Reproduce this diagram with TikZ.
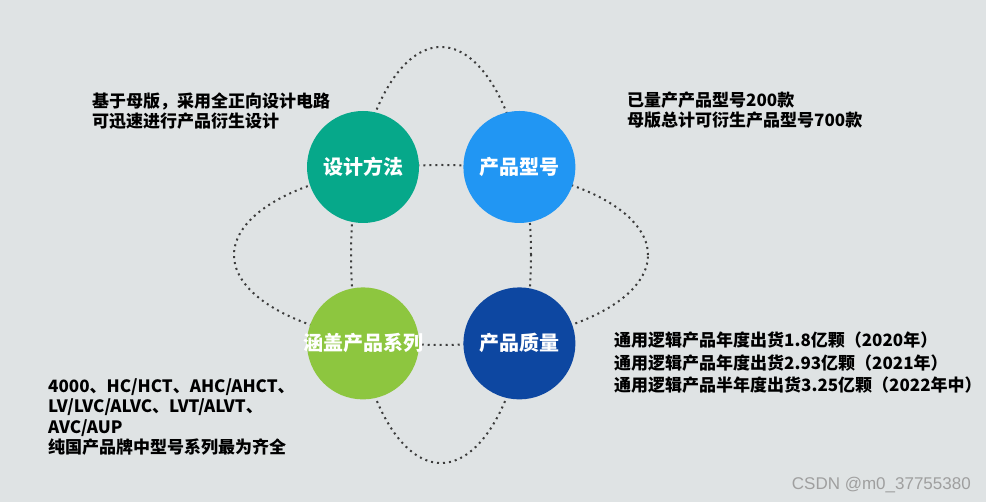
\documentclass[tikz,border=0pt]{standalone}
\usepackage{fontspec}
\setmainfont{Noto Sans CJK SC}
\newfontfamily\markfont{Liberation Sans}
\usepackage{tikz}
\usetikzlibrary{positioning}
\definecolor{bgGray}{RGB}{223,227,228}
\definecolor{dotGray}{RGB}{60,60,60}
\definecolor{methodGreen}{RGB}{6,168,138}
\definecolor{typeBlue}{RGB}{33,150,243}
\definecolor{coverGreen}{RGB}{141,198,63}
\definecolor{qualityBlue}{RGB}{13,71,161}

\tikzset{
    bubble/.style={circle, minimum size=112pt, inner sep=0pt, text=white,
        font=\fontsize{20}{24}\selectfont\bfseries},
    note/.style={anchor=west, align=left, inner sep=0pt,
        font=\fontsize{17}{20.5}\selectfont\bfseries},
    orbit/.style={draw=dotGray, line width=2pt, dash pattern=on 2pt off 4pt}
}

\begin{document}
\begin{tikzpicture}[x=1pt, y=1pt]
    % nền xám
    \fill[bgGray] (0,0) rectangle (986,502);
    \coordinate (hub) at (441,247);

    % hai hình elip chấm chấm
    \draw[orbit] (hub) ellipse [x radius=90, y radius=208];
    \draw[orbit] (hub) ellipse [x radius=207, y radius=90];

    % bốn vòng tròn
    \node[bubble, fill=methodGreen] (method) at (363,335) {设计方法};
    \node[bubble, fill=typeBlue, right=44pt of method] (type) {产品型号};
    \node[bubble, fill=coverGreen, below=64pt of method] (cover) {\makebox[0pt]{涵盖产品系列}};
    \node[bubble, fill=qualityBlue, right=44pt of cover] (quality) {产品质量};

    % chú thích
    \node[note] (methodNote) at (92,391) {基于母版，采用全正向设计电路\\可迅速进行产品衍生设计};
    \node[note] (typeNote) at (627,392) {已量产产品型号200款\\母版总计可衍生产品型号700款};
    \node[note] (coverNote) at (48,85) {4000、HC/HCT、AHC/AHCT、\\LV/LVC/ALVC、LVT/ALVT、\\AVC/AUP\\纯国产品牌中型号系列最为齐全};
    \node[note, font=\fontsize{17}{22.5}\selectfont\bfseries] (qualityNote) at (614,139) {通用逻辑产品年度出货1.8亿颗（2020年）\\通用逻辑产品年度出货2.93亿颗（2021年）\\通用逻辑产品半年度出货3.25亿颗（2022年中）};

    % watermark
    \node[anchor=east, inner sep=0pt, text=gray!75, font=\markfont\fontsize{17}{20}\selectfont] (mark) at (971,17) {CSDN @m0\_37755380};
\end{tikzpicture}
\end{document}
